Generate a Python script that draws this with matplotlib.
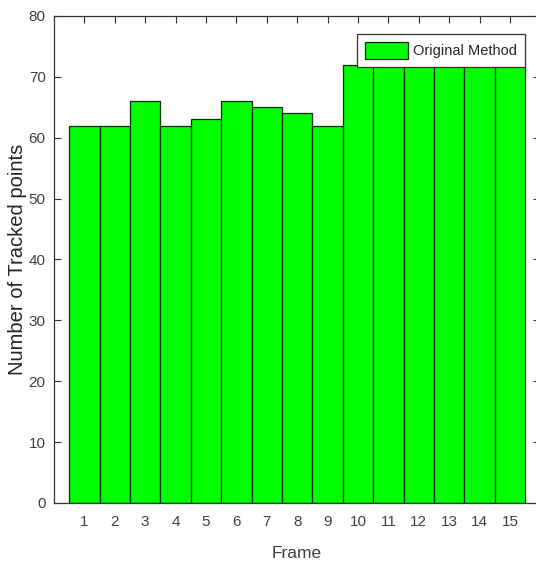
import matplotlib.pyplot as plt

# values
frames = list(range(1, 16))
tracked_points = [62, 62, 66, 62, 63, 66, 65, 64, 62, 72, 72, 72, 72, 72, 72]
series_label = "Original Method"

plt.rcParams['font.family'] = ['Liberation Sans', 'DejaVu Sans']

fig = plt.figure(figsize=(5.36, 5.63), dpi=100)
# the right edge of the box runs past the image, as in the reference
ax = fig.add_axes([0.1007, 0.1066, 0.9075, 0.865])

ax.bar(frames, tracked_points, width=1.0, color='#00ff00', edgecolor='#0a2a0a',
       linewidth=0.9, label=series_label)

ax.set_xlim(0, 16)
ax.set_ylim(0, 80)
ax.set_xticks(frames)
ax.set_yticks(range(0, 81, 10))
ax.set_axisbelow(True)

ax.tick_params(direction='in', length=5, width=0.8, color='#333333',
               labelcolor='#404040', labelsize=11, top=True, right=True)
ax.tick_params(axis='x', pad=9)
ax.tick_params(axis='y', pad=6)
for s in ax.spines.values():
    s.set_color('#333333')
    s.set_linewidth(0.9)

ax.set_xlabel("Frame", fontsize=12.5, color='#404040', labelpad=12)
ax.set_ylabel("Number of Tracked points", fontsize=14.5, color='#262626',
              labelpad=1)

leg = ax.legend(loc='upper right', bbox_to_anchor=(0.968, 0.963), fontsize=10.5,
                fancybox=False, edgecolor='#333333', framealpha=1,
                handlelength=3.0, handleheight=1.4, borderpad=0.55,
                handletextpad=0.3, borderaxespad=0)
leg.get_frame().set_linewidth(0.9)
for t in leg.get_texts():
    t.set_color('#262626')

fig.savefig("out.png", dpi=100)
